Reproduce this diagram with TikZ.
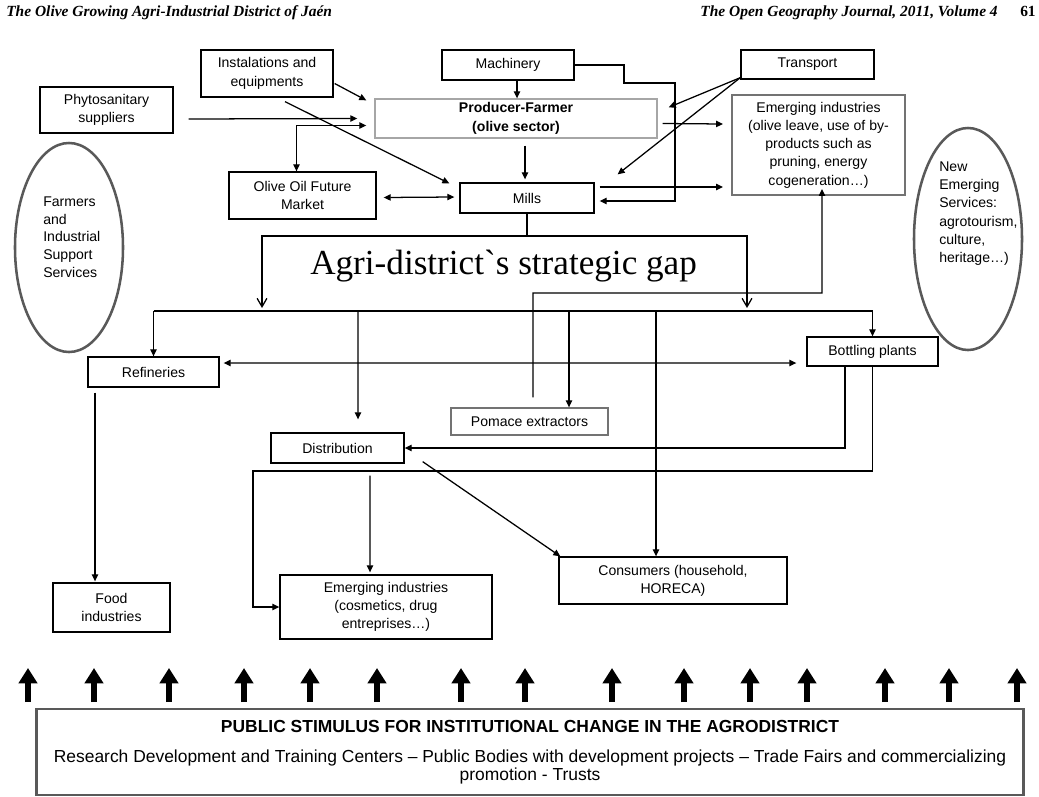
\documentclass[tikz,border=0pt]{standalone}
\usepackage{fontspec}
\setmainfont{Liberation Sans}
\newfontfamily\serif{Liberation Serif}
\usetikzlibrary{arrows.meta,shapes.geometric}
\tikzset{
  box/.style={draw, line width=0.9pt, align=center, inner sep=1pt, font=\fontsize{10}{13}\selectfont},
  arr/.style={line width=0.9pt, -{Triangle[length=5pt,width=4.5pt]}},
  darr/.style={line width=0.9pt, {Triangle[length=5pt,width=4.5pt]}-{Triangle[length=5pt,width=4.5pt]}},
  open/.style={line width=0.9pt, -{Straight Barb[length=6pt,width=7pt]}},
  oval/.style={ellipse, draw=black!65, line width=1.8pt, inner sep=0pt},
  ovaltext/.style={anchor=west, align=left, inner sep=0pt, font=\fontsize{10}{12.6}\selectfont},
  fat/.style={line width=4.5pt, -{Triangle[length=11pt,width=13pt]}},
  head/.style={inner sep=0pt, font=\serif\bfseries\itshape\fontsize{11}{12}\selectfont}
}

\begin{document}
\begin{tikzpicture}[x=0.025cm, y=-0.025cm]
  \useasboundingbox (0,0) rectangle (1039,796);
  \def\u{0.7113pt}
  \def\bx#1#2#3#4#5#6#7{
    \node[box, #2, minimum width={(#5-#3)*\u}, minimum height={(#6-#4)*\u}] (#1) at ({(#3+#5)/2},{(#4+#6)/2}) {#7};
  }

  \node[head, anchor=base west] (hleft) at (6,16) {The Olive Growing Agri-Industrial District of Jaén};
  \node[head, anchor=base east] (hright) at (998,16) {The Open Geography Journal, 2011, Volume 4};
  \node[head, anchor=base east, font=\serif\bfseries\fontsize{11}{12}\selectfont] (hpage) at (1036,16) {61};

  \bx{inst}{}{201}{50}{333}{97}{Instalations and\\equipments}
  \bx{mach}{}{442}{50}{574}{80}{Machinery}
  \bx{trans}{}{741}{50}{874}{79}{Transport}
  \bx{phyto}{}{40}{87}{173}{133}{Phytosanitary\\suppliers}
  \bx{prod}{draw=black!35, font=\fontsize{10}{13}\selectfont\bfseries}{375}{99}{657}{138}{Producer-Farmer\\(olive sector)}
  \bx{emtop}{draw=black!55, line width=1.3pt}{732}{95}{905}{195}{Emerging industries\\(olive leave, use of by-\\products such as\\pruning, energy\\cogeneration…)}
  \bx{oofm}{}{229}{172}{376}{219}{Olive Oil Future\\Market}
  \bx{mills}{}{460}{183}{594}{213}{Mills}
  \bx{ref}{}{88}{357}{219}{387}{Refineries}
  \bx{bott}{}{807}{337}{938}{366}{Bottling plants}
  \bx{pom}{draw=black!55}{451}{408}{608}{435}{Pomace extractors}
  \bx{dist}{}{271}{433}{404}{463}{Distribution}
  \bx{food}{}{53}{583}{170}{632}{Food\\industries}
  \bx{embot}{}{280}{575}{492}{639}{Emerging industries\\(cosmetics, drug\\entreprises…)}
  \bx{cons}{}{559}{557}{787}{604}{Consumers (household,\\HORECA)}

  \node[oval, minimum width={108*\u}, minimum height={209*\u}] (farm) at (69,247.5) {};
  \node[ovaltext] (farmtext) at (43,237) {Farmers\\and\\Industrial\\Support\\Services};
  \node[oval, minimum width={108*\u}, minimum height={222*\u}] (serv) at (968,239) {};
  \node[ovaltext, font=\fontsize{10}{13}\selectfont] (servtext) at (939,213.5) {New\\Emerging\\Services:\\agrotourism,\\culture,\\heritage…)};

  \node[anchor=base west, inner sep=0pt, font=\serif\fontsize{25}{28}\selectfont] (gaptitle) at (310,274) {Agri-district\symbol{96}s strategic gap};

  \draw[arr] ([shift={(1,10)}]inst.east) -- ([shift={(-8,2)}]prod.north west);
  \draw[arr] ([shift={(18,4)}]inst.south) -- ([shift={(-10,1)}]mills.north west);
  \draw[arr] ([shift={(15,9)}]phyto.east) -- ([shift={(-17,0)}]prod.west);
  \draw[darr] ([shift={(-8,7)}]prod.west) -| ([shift={(-6,0)}]oofm.north);
  \draw[darr] ([shift={(7,2)}]oofm.east) -- ([shift={(-5,-1)}]mills.west);
  \draw[arr] ([shift={(9,0)}]mach.south) -- ([shift={(9,0)}]mach.south |- prod.north);
  \draw[arr] (mach.east) -| (624,83) -| (675,201) -- ([shift={(5,3)}]mills.east);
  \draw[arr] ([shift={(0,-2)}]trans.south west) -- ([shift={(11,9)}]prod.north east);
  \draw[arr] ([shift={(0,-2)}]trans.south west) -- ([shift={(23,-8)}]mills.north east);
  \draw[arr] ([shift={(5,5)}]prod.east) -- ([shift={(-8,-21)}]emtop.west);
  \draw[arr] ([shift={(9,7)}]prod.south) -- ([shift={(-2,-3)}]mills.north);
  \draw[arr] ([shift={(5,-11)}]mills.east) -- ([shift={(-8,42)}]emtop.west);

  \coordinate (split) at (527,236);
  \coordinate (gl) at (262,308);
  \coordinate (gr) at (747,308);
  \coordinate (bl) at (153.5,311);
  \coordinate (br) at (872.5,311);
  \coordinate (bdist) at (358,311);
  \coordinate (bpom) at (569,311);
  \coordinate (bcons) at (656,311);
  \draw[line width=0.9pt] (mills.south) -- (split);
  \draw[open] (split) -| (gl);
  \draw[open] (split) -| (gr);
  \draw[line width=0.9pt] (bl) -- (br);
  \draw[arr] (bl) -- (ref.north);
  \draw[arr] (bdist) -- ([shift={(20.5,-13)}]dist.north);
  \draw[arr] (bpom) -- (bpom |- pom.north);
  \draw[arr] (bcons) -- (bcons |- cons.north);
  \draw[arr] (br) -- (bott.north);

  \draw[arr] ([shift={(3.5,-10)}]pom.north) |- (822,293) -- ([shift={(3.5,-7)}]emtop.south);
  \draw[darr] ([shift={(4,-9)}]ref.east) -- ([shift={(-10,11.5)}]bott.west);
  \draw[arr] ([shift={(-27.5,0)}]bott.south) |- (dist.east);
  \draw[arr] (bott.south) |- (253,471) |- (embot.west);
  \draw[arr] ([shift={(32.5,12)}]dist.south) -- ([shift={(-16,-2)}]embot.north);
  \draw[arr] ([shift={(18,-2)}]dist.south east) -- ([shift={(2,0)}]cons.north west);
  \draw[arr] ([shift={(-58.5,5)}]ref.south) -- ([shift={(-16.5,-1)}]food.north);

  \node[draw=black!65, line width=2pt, minimum width={986*\u}, minimum height={86*\u}, align=center, font=\fontsize{12.4}{12.3}\selectfont] (pub) at (530,752) {{\bfseries PUBLIC STIMULUS FOR INSTITUTIONAL CHANGE IN THE AGRODISTRICT}\\[9.5pt]Research Development and Training Centers – Public Bodies with development projects – Trade Fairs and commercializing\\promotion - Trusts};
  \foreach \x in {28,94,169,244,310,377,461,525,612,684,750,807,885,949,1017}
    \draw[fat] (\x,702) -- (\x,668);
\end{tikzpicture}
\end{document}
